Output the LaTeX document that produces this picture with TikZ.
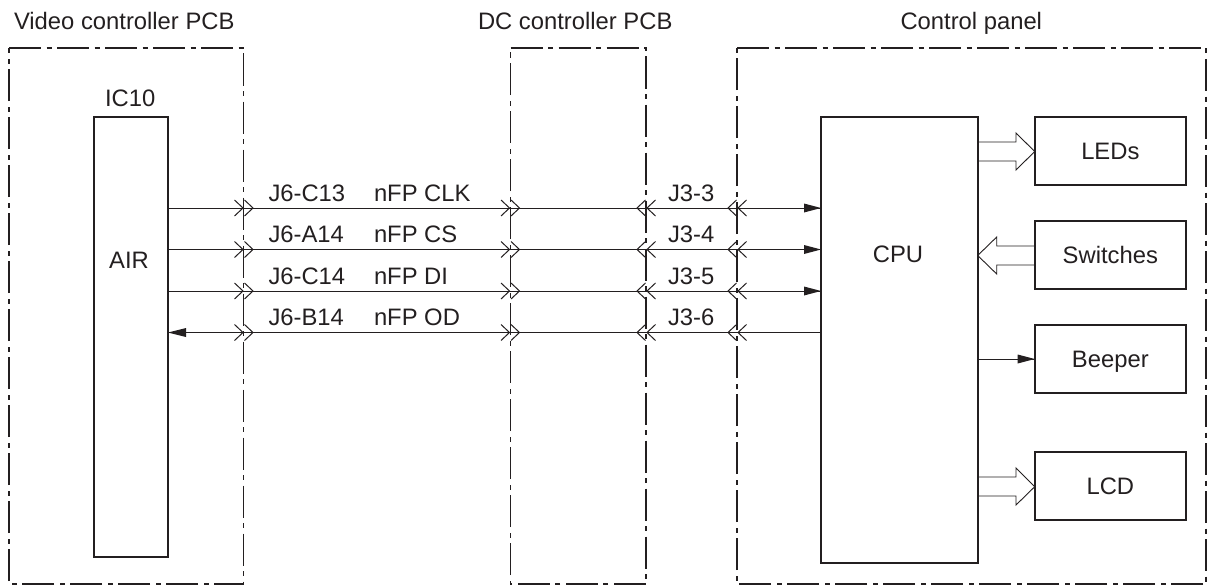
\documentclass[tikz,border=0pt]{standalone}
\usepackage{fontspec}
\setmainfont{Liberation Sans}
\definecolor{ink}{RGB}{35,31,32}
\tikzset{
  x=1pt,y=-1pt,
  lbl/.style={inner sep=0pt,outer sep=0pt,anchor=base west,text=ink,font=\fontsize{23.8}{26}\selectfont},
  boxx/.style={draw=ink,line width=2pt,inner sep=0pt,outer sep=0pt,text=ink,font=\fontsize{23.8}{26}\selectfont,text height=17pt,text depth=0pt},
  frame/.style={draw=ink,line width=1.8pt,dash pattern=on 32pt off 5.5pt on 5pt off 5.5pt},
  wire/.style={draw=ink,line width=1pt},
  thinln/.style={draw=ink,line width=0.9pt},
}
% chevron: x, y, direction (+1 tip right, -1 tip left)
\newcommand{\chev}[3]{\draw[thinln,line width=1pt] ({#1-#3*8.5},#2-8) -- (#1,#2) -- ({#1-#3*8.5},#2+8);}
\newcommand{\dchevR}[2]{\chev{#1}{#2}{1}\chev{#1+10}{#2}{1}}
\newcommand{\dchevL}[2]{\chev{#1}{#2}{-1}\chev{#1+10}{#2}{-1}}
\newcommand{\rectnode}[6]{\node[boxx,minimum width=#4pt-#2pt,minimum height=#5pt-#3pt,anchor=north west] (#1) at (#2,#3) {#6};}
\begin{document}
\begin{tikzpicture}
\useasboundingbox (0,0) rectangle (1207,586);
% frames, drawn clockwise from the top left corner
\draw[frame] (9,48) -- (243.5,48) -- (243.5,584) -- (9,584) -- cycle;
\draw[frame] (510.5,48) -- (646,48) -- (646,584) -- (510.5,584) -- cycle;
\draw[frame] (737,48) -- (1206,48) -- (1206,584) -- (737,584) -- cycle;
\node[lbl] (t1) at (14,30) {Video controller PCB};
\node[lbl] (t2) at (478,30) {DC controller PCB};
\node[lbl] (t3) at (900.5,30) {Control panel};
% blocks
\rectnode{ic}{94.3}{117}{167.7}{557}{}
\rectnode{cpu}{821}{117}{977.7}{563}{}
\rectnode{leds}{1034.7}{117}{1186}{185}{LEDs}
\rectnode{sw}{1034.7}{221}{1186}{288.5}{Switches}
\rectnode{bp}{1034.7}{325}{1186}{393}{Beeper}
\rectnode{lcd}{1034.7}{452}{1186}{520}{LCD}
\node[lbl] (icl) at (105,106) {IC10};
\node[lbl,anchor=base] (air) at (129,268) {AIR};
\node[lbl,anchor=base] (cpul) at (898,262) {CPU};
% levels
\coordinate (l1) at (0,208);
\coordinate (l2) at (0,249.5);
\coordinate (l3) at (0,291);
\coordinate (l4) at (0,332.5);
% connectors
\draw[wire] (ic.east |- l1) -- (cpu.west |- l1);
\draw[wire] (ic.east |- l2) -- (cpu.west |- l2);
\draw[wire] (ic.east |- l3) -- (cpu.west |- l3);
\draw[wire] (ic.east |- l4) -- (cpu.west |- l4);
\foreach \yy in {208,249.5,291}{
  \fill[ink] (821,\yy) -- (804,\yy-4.5) -- (804,\yy+4.5) -- cycle;
}
\fill[ink] (168,332.5) -- (186,328) -- (186,337) -- cycle;
\foreach \yy in {208,249.5,291,332.5}{
  \dchevR{243}{\yy}
  \dchevR{509.5}{\yy}
  \dchevL{637}{\yy}
  \dchevL{728}{\yy}
}
% signal labels
\node[lbl] (a1) at (268.5,201) {J6-C13};
\node[lbl] (b1) at (374,201) {nFP CLK};
\node[lbl] (c1) at (668,201) {J3-3};
\node[lbl] (a2) at (268.5,242) {J6-A14};
\node[lbl] (b2) at (374,242) {nFP CS};
\node[lbl] (c2) at (668,242) {J3-4};
\node[lbl] (a3) at (268.5,284) {J6-C14};
\node[lbl] (b3) at (374,284) {nFP DI};
\node[lbl] (c3) at (668,284) {J3-5};
\node[lbl] (a4) at (268.5,325) {J6-B14};
\node[lbl] (b4) at (374,325) {nFP OD};
\node[lbl] (c4) at (668,325) {J3-6};
% wide arrows
\draw[thinln] (cpu.east |- 0,142) -- (1016,142) -- (1016,133) -- (leds.west |- 0,151.5) -- (1016,170) -- (1016,161) -- (cpu.east |- 0,161);
\draw[thinln] (sw.west |- 0,246) -- (996.7,246) -- (996.7,237) -- (cpu.east |- 0,255.5) -- (996.7,274) -- (996.7,265) -- (sw.west |- 0,265);
\draw[thinln] (cpu.east |- 0,477) -- (1016,477) -- (1016,468) -- (lcd.west |- 0,486.7) -- (1016,505) -- (1016,496) -- (cpu.east |- 0,496);
\draw[wire] (cpu.east |- bp.west) -- (bp.west);
\fill[ink] (bp.west) -- ++(-17,-4.5) -- ++(0,9) -- cycle;
\end{tikzpicture}
\end{document}
